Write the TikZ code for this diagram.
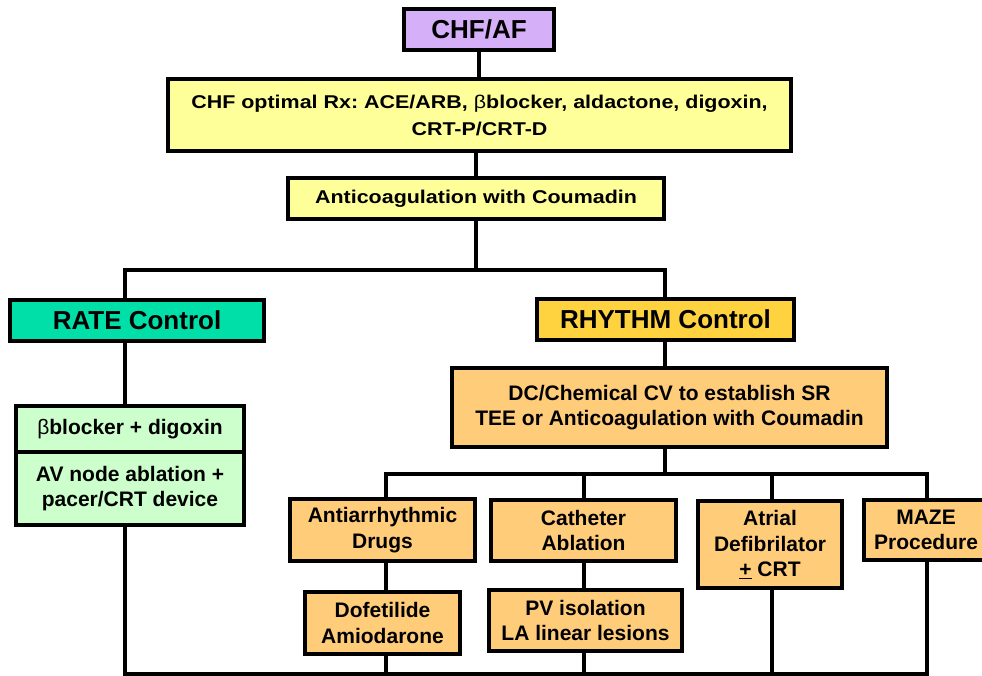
\documentclass[tikz,border=0pt]{standalone}
\usepackage{fontspec}
\setmainfont{Liberation Sans}
\newfontfamily\widefont[FakeStretch=1.16]{Liberation Sans}
\definecolor{lav}{HTML}{D5AFF7}
\definecolor{yel}{HTML}{FFFF99}
\definecolor{teal2}{HTML}{00DFA8}
\definecolor{lgreen}{HTML}{CCFFCC}
\definecolor{gold}{HTML}{FFD23F}
\definecolor{orng}{HTML}{FFCC7A}
\newcommand{\bet}{{\mdseries β}}
\frenchspacing
\begin{document}
\begin{tikzpicture}[x=1pt,y=-1pt,
  conn/.style={line width=4pt},
  box/.style={draw, line width=4pt, inner sep=0pt, outer sep=0pt, align=center, text=black,
    font=\bfseries\fontsize{21}{25.5}\selectfont},
  topbox/.style={box, font=\widefont\bfseries\fontsize{18.5}{27}\selectfont, fill=yel},
  bigbox/.style={box, font=\bfseries\fontsize{26}{30}\selectfont},
  obox/.style={box, fill=orng},
  gbox/.style={box, fill=lgreen}]
\useasboundingbox (0,0) rectangle (982,676);
\fill[white] (0,0) rectangle (982,676);

\node[bigbox, fill=lav, minimum width=150pt, minimum height=41pt] (top) at (479,29.5) {CHF/AF};
\node[topbox, minimum width=623pt, minimum height=72pt] (rx) at (479.5,115)
  {CHF optimal Rx: ACE/ARB, \bet blocker, aldactone, digoxin,\\CRT-P/CRT-D};
\node[topbox, minimum width=376pt, minimum height=41pt] (anti) at (476,198.5) {Anticoagulation with Coumadin};
\node[bigbox, fill=teal2, minimum width=254pt, minimum height=41pt] (rate) at (137,320.5) {RATE Control};
\node[bigbox, fill=gold, minimum width=257pt, minimum height=41pt] (rhythm) at (665.5,319.5) {RHYTHM Control};
\node[gbox, minimum width=228pt, minimum height=46pt] (gtop) at (130,429) {\bet blocker + digoxin};
\node[gbox, minimum width=228pt, minimum height=73pt] (gbot) at (130,488.5) {AV node ablation +\\pacer/CRT device};
\node[obox, minimum width=435pt, minimum height=79pt] (dc) at (669.5,407.5)
  {DC/Chemical CV to establish SR\\TEE or Anticoagulation with Coumadin};
\node[obox, minimum width=185pt, minimum height=62pt] (aad) at (382.5,530) {Antiarrhythmic\\Drugs};
\node[obox, minimum width=155pt, minimum height=62pt] (dof) at (382.5,623) {Dofetilide\\Amiodarone};
\node[obox, minimum width=185pt, minimum height=61pt] (cath) at (583.5,530.5) {Catheter\\Ablation};
\node[obox, minimum width=193pt, minimum height=61pt] (pv) at (585.5,620.5) {PV isolation\\LA linear lesions};
\node[obox, minimum width=144pt, minimum height=87pt] (atrial) at (770,544.5) {Atrial\\Defibrilator\\\underline{+} CRT};
\node[obox, minimum width=124pt, minimum height=60pt] (maze) at (926,530) {MAZE\\Procedure};

\coordinate (hl) at (125,270);
\coordinate (hr) at (665,270);
\coordinate (ml) at (386,474);
\coordinate (mr) at (927,474);
\coordinate (bl) at (125,674);
\coordinate (br) at (927,674);

\begin{scope}[conn]
\draw (top.south) -- (top.south |- rx.north);
\draw (rx.south -| anti.north) -- (anti.north);
\draw (anti.south) -- (anti.south |- hl);
\draw (hl |- rate.north) -- (hl) -- (hr) -- (hr |- rhythm.north);
\draw (hl |- rate.south) -- (hl |- gtop.north);
\draw (hl |- gbot.south) -- (bl) -- (br) -- (br |- maze.south);
\draw (hr |- rhythm.south) -- (hr |- dc.north);
\draw (hr |- dc.south) -- (hr |- ml);
\draw (ml |- aad.north) -- (ml) -- (mr) -- (mr |- maze.north);
\draw (cath.north) -- (cath.north |- ml);
\draw (atrial.north -| 772,0) -- (ml -| 772,0);
\draw (aad.south -| ml) -- (dof.north -| ml);
\draw (cath.south) -- (cath.south |- pv.north);
\draw (dof.south -| ml) -- (bl -| ml);
\draw (cath.south |- pv.south) -- (cath.south |- bl);
\draw (atrial.south -| 772,0) -- (bl -| 772,0);
\end{scope}
\end{tikzpicture}
\end{document}
